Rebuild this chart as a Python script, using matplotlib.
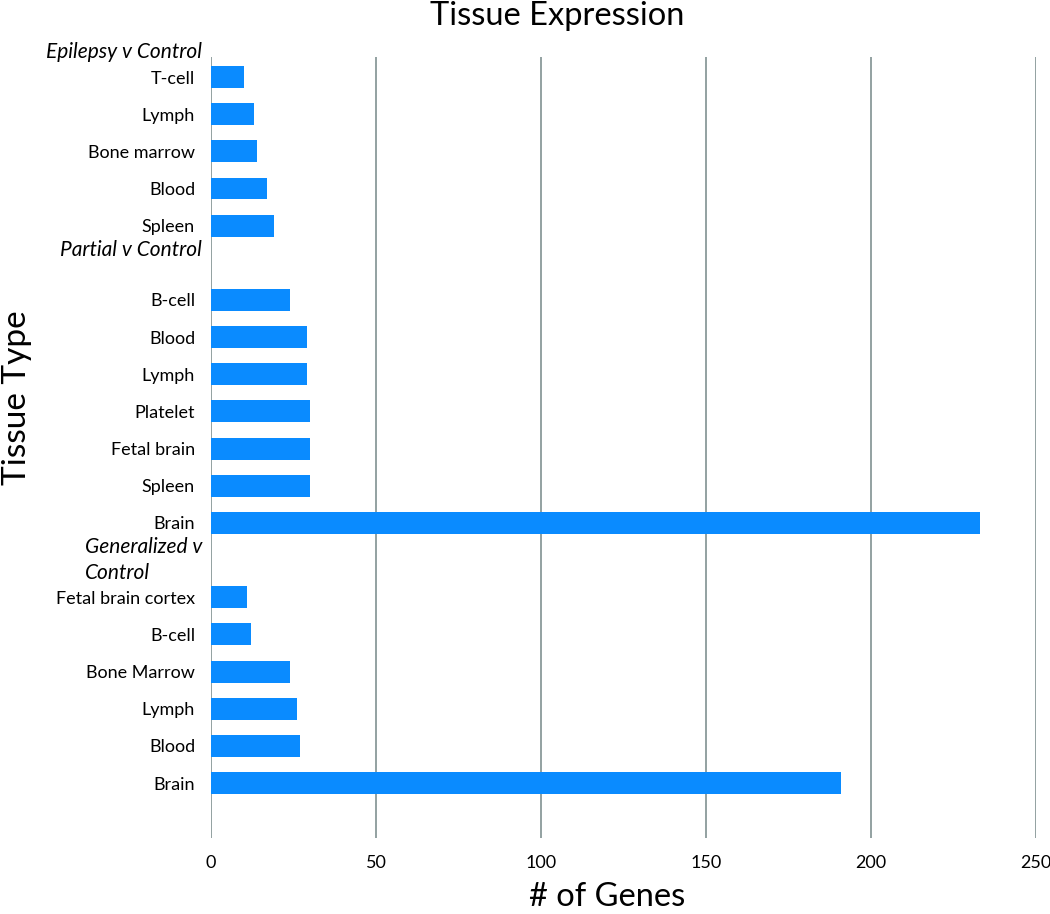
import numpy as np
import matplotlib
matplotlib.use("Agg")
import matplotlib.pyplot as plt

plt.rcParams['font.family'] = ['Lato', 'DejaVu Sans']

# rows top to bottom; empty label = gap row for a group header
tissues = ["T-cell", "Lymph", "Bone marrow", "Blood", "Spleen", "",
           "B-cell", "Blood", "Lymph", "Platelet", "Fetal brain", "Spleen", "Brain", "",
           "Fetal brain cortex", "B-cell", "Bone Marrow", "Lymph", "Blood", "Brain"]
n_genes = [10, 13, 14, 17, 19, 0,
           24, 29, 29, 30, 30, 30, 233, 0,
           11, 12, 24, 26, 27, 191]
groups = ["Epilepsy v Control", "Partial v Control", "Generalized v\nControl"]
group_rows = [-0.67, 4.66, 13.0]
xticks = [0, 50, 100, 150, 200, 250]

W, H = 1050, 914
fig = plt.figure(figsize=(W / 100, H / 100), dpi=100)
ax = fig.add_axes([211 / W, 1 - 838 / H, (1036 - 211) / W, (838 - 57) / H])

rows = np.arange(len(tissues))
ax.barh(rows, n_genes, height=0.59, color='#0A8BFF', zorder=3)

ax.set_xlim(0, 250)
ax.set_ylim(20.48, -0.54)
ax.set_xticks(xticks)
ax.set_yticks(rows)
ax.set_yticklabels(tissues, fontsize=13)
ax.tick_params(axis='both', length=0)
ax.tick_params(axis='y', pad=11.5)
ax.tick_params(axis='x', labelsize=13, pad=12)
ax.grid(axis='x', color='#8a9a9a', lw=1.3, zorder=0)
for s in ax.spines.values():
    s.set_visible(False)

for name, r in zip(groups, group_rows):
    ax.annotate(name, xy=(0, r), xytext=(-6.5, 0), textcoords='offset points',
                ha='right', va='center', fontsize=15, style='italic',
                multialignment='left', linespacing=1.35, annotation_clip=False)

fig.text(557 / W, 1 - 16 / H, "Tissue Expression", ha='center', va='center', fontsize=23.5)
fig.text(607 / W, 1 - 897 / H, "# of Genes", ha='center', va='center', fontsize=23.5)
fig.text(17 / W, 1 - 398 / H, "Tissue Type", ha='center', va='center', fontsize=24, rotation=90)

fig.savefig("out.png", dpi=100)
